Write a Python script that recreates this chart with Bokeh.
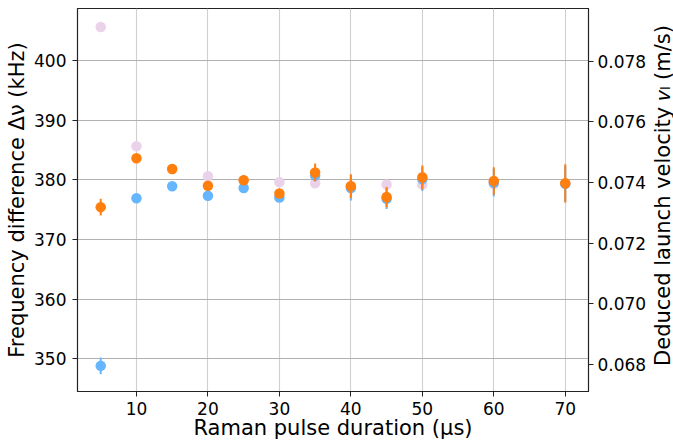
import math
from bokeh.plotting import figure
from bokeh.models import Range1d, LinearAxis, FixedTicker, NumeralTickFormatter, ColumnDataSource, Label
from bokeh.embed import file_html
from bokeh.resources import INLINE

# ---- data ----
durations = [5, 10, 15, 20, 25, 30, 35, 40, 45, 50, 60, 70]
reference = [405.6, 385.6, 381.8, 380.6, 379.9, 379.6, 379.4, 379.0, 379.2, 379.2, 379.3, 379.4]
blue_vals = [348.8, 376.9, 378.9, 377.3, 378.6, 377.0, 380.7, 378.6, 376.8, 380.1, 379.5, 379.3]
blue_err = [1.4, 0.5, 0.4, 0.5, 0.8, 0.5, 0.8, 2.1, 1.7, 2.0, 2.3, 3.0]
orange_vals = [375.4, 383.6, 381.8, 379.0, 379.9, 377.7, 381.2, 378.9, 377.1, 380.4, 379.8, 379.4]
orange_err = [1.4, 0.5, 0.4, 0.5, 0.8, 0.5, 1.5, 2.0, 1.7, 2.0, 2.3, 3.2]
x_ticks = [10, 20, 30, 40, 50, 60, 70]
y_ticks = [350, 360, 370, 380, 390, 400]
v_ticks = [0.068, 0.070, 0.072, 0.074, 0.076, 0.078]
x_label = "Raman pulse duration (μs)"
y_label = "Frequency difference Δν (kHz)"
v_label = "Deduced launch velocity 𝑣ₗ (m/s)"

PINK = "#ebd2eb"
BLUE = "#66b6ff"
ORANGE = "#ff7f0e"
FONT = "DejaVu Sans"
TICK_SIZE = "17px"
LABEL_SIZE = "21px"

W, H = 673, 444
BL, BR, BT, BB = 77, 83, 8, 53
FW, FH = W - BL - BR, H - BT - BB

p = figure(width=W, height=H, output_backend="svg", toolbar_location=None,
           x_range=Range1d(1.75, 73.25), y_range=Range1d(344.5, 408.7),
           min_border_left=BL, min_border_right=BR, min_border_top=BT, min_border_bottom=BB)
p.extra_y_ranges = {"v": Range1d(0.06710, 0.07974)}

p.outline_line_color = "#222222"
p.outline_line_width = 1.2
p.background_fill_color = "white"
p.border_fill_color = "white"

# grids
p.xgrid.ticker = FixedTicker(ticks=x_ticks)
p.ygrid.ticker = FixedTicker(ticks=y_ticks)
p.xgrid.grid_line_color = "#d0d0d0"
p.ygrid.grid_line_color = "#b0b0b0"
p.xgrid.grid_line_width = 1.1
p.ygrid.grid_line_width = 1.1

def style_axis(ax, ticks, label=None):
    ax.ticker = FixedTicker(ticks=ticks)
    ax.major_label_text_font = FONT
    ax.major_label_text_font_size = TICK_SIZE
    ax.major_label_text_color = "black"
    if label is not None:
        ax.axis_label = label
        ax.axis_label_text_font = FONT
        ax.axis_label_text_font_size = LABEL_SIZE
        ax.axis_label_text_font_style = "normal"
        ax.axis_label_text_color = "black"
    ax.major_tick_out = 5
    ax.major_tick_in = 0
    ax.minor_tick_out = 0
    ax.minor_tick_in = 0
    ax.axis_line_color = "#222222"
    ax.major_tick_line_color = "#222222"

xa = p.xaxis[0]
style_axis(xa, x_ticks, x_label)
xa.major_label_standoff = 5
xa.axis_label_standoff = -2

ya = p.yaxis[0]
style_axis(ya, y_ticks, y_label)
ya.major_label_standoff = 6
ya.axis_label_standoff = 2

ra = LinearAxis(y_range_name="v")
style_axis(ra, v_ticks)
ra.formatter = NumeralTickFormatter(format="0.000")
ra.major_label_standoff = 4
p.add_layout(ra, "right")

# right-hand title, reading bottom-to-top like the reference
p.add_layout(Label(x=1, y=196, x_units="screen", y_units="screen", text=v_label,
                   angle=math.pi / 2, text_font=FONT, text_font_size=LABEL_SIZE,
                   text_color="black", text_align="center", text_baseline="top"), "right")

# data sources
src = ColumnDataSource(dict(
    x=durations,
    ref=reference,
    b=blue_vals,
    b_lo=[v - e for v, e in zip(blue_vals, blue_err)],
    b_hi=[v + e for v, e in zip(blue_vals, blue_err)],
    o=orange_vals,
    o_lo=[v - e for v, e in zip(orange_vals, orange_err)],
    o_hi=[v + e for v, e in zip(orange_vals, orange_err)],
))

p.scatter("x", "ref", source=src, size=10.5, color=PINK, line_color=None)
p.segment(x0="x", y0="b_lo", x1="x", y1="b_hi", source=src, line_color=BLUE, line_width=2)
p.scatter("x", "b", source=src, size=10.5, color=BLUE, line_color=None)
p.segment(x0="x", y0="o_lo", x1="x", y1="o_hi", source=src, line_color=ORANGE, line_width=2)
p.scatter("x", "o", source=src, size=10.5, color=ORANGE, line_color=None)

open("out.html", "w").write(file_html(p, INLINE))
